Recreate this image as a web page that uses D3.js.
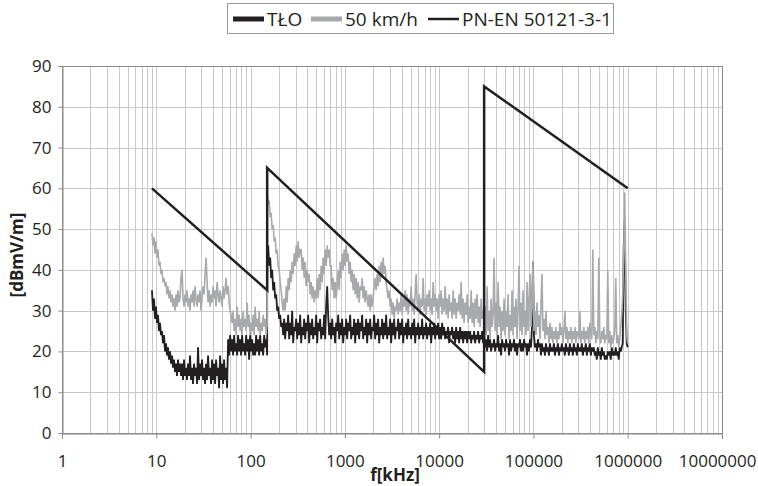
<!DOCTYPE html>
<html>
<head>
<meta charset="utf-8">
<script src="https://cdn.jsdelivr.net/npm/d3@7"></script>
<style>
body { margin: 0; background: #fff; }
text { font-family: "Open Sans", sans-serif; fill: #231f20; }
</style>
</head>
<body>
<div id="chart"></div>
<script>
// sweep band edges [kHz]
var bandEdges = [9, 150, 30000, 1000000];

// TŁO (background), one value per sweep point, band by band
var tloA = [35,30,33,28,31,27,29,25,27,24, 25,22,24,20,22,19,21,18,20,17,
  19,16,18,15,17,14,18,15,17,14, 17,13,18,14,16,13,17,14,19,13,
  16,12,17,14,16,12,21,13,17,14, 18,13,16,12,17,13,19,14,16,12,
  18,13,17,12,18,14,16,11,19,13, 17,12,18,13,16,11,
  23,19,24,20,23,19,24,20,22,19, 24,20,23,19,24,20,22,19,24,20,
  23,18,24,20,23,19,22,19,24,20, 23,19,24,20,22,19,24,21,23,19];
var tloB = [44,46,41,43,38,40,35,37,33,34, 30,31,28,29,26,27,24,28,23,27,
  25,29,23,27,24,30,22,26,25,28, 23,27,24,29,22,26,24,28,23,27,
  25,29,22,27,24,28,23,26,24,29, 22,27,25,28,23,26,24,29,23,31,
  36,29,24,27,23,28,24,26,22,27, 25,29,23,27,24,28,22,26,24,28,
  23,27,25,29,23,26,24,28,22,27, 24,28,23,27,25,29,23,26,24,28,
  22,27,24,28,23,26,25,29,23,27, 24,28,22,26,24,28,23,27,24,29,
  23,26,24,28,22,27,24,28,23,26, 25,28,23,27,24,28,22,26,24,27,
  23,28,24,26,23,27,24,28,22,26, 24,27,23,26,24,28,23,26,24,27,
  23,26,24,27,22,26,24,27,23,26, 24,27,23,26,23,27,24,26,23,25,
  24,26,22,25,24,26,23,25,22,26, 23,25,22,26,23,25,22,25,23,25,
  22,25,23,25,22,24,23,25,22,24, 23,25,22,24,23,25,22,24];
var tloC = [24,21,23,20,24,21,23,20,22,21, 23,20,22,21,24,20,22,19,23,21,
  22,20,23,21,22,19,23,20,22,21, 23,20,22,19,22,21,23,20,22,20,
  23,21,22,19,22,20,23,21,26,42, 24,21,22,20,23,21,22,19,22,20,
  21,19,22,20,21,19,22,20,21,20, 22,19,21,20,22,19,21,20,22,20,
  21,19,22,20,21,19,22,20,21,19, 22,20,21,19,22,20,21,20,22,19,
  21,20,22,19,21,20,22,19,21,20, 21,19,20,18,21,19,20,18,21,19,
  20,18,19,18,20,19,20,18,21,19, 20,19,21,19,20,18,21,20,21,22,
  46,52,30,22,21];

// 50 km/h
var kmhA = [49,46,48,44,47,43,45,41,42,39, 40,37,38,36,37,34,36,33,35,32,
  34,31,33,30,34,31,35,32,33,38, 40,33,31,34,32,35,31,33,30,34,
  32,35,31,36,33,31,34,32,35,30, 33,36,34,39,43,37,32,35,31,34,
  32,36,33,35,31,37,34,32,35,33, 31,36,33,35,38,34,36,32,30,29,
  27,30,25,28,24,31,26,29,25,28, 24,30,26,28,25,32,26,29,24,27,
  25,29,24,31,26,28,25,30,24,27, 25,29,26,28,24,27];
var kmhB = [59,56,57,53, 54,50,51,47,48,44,45,41,40,37,35,32,30,
  33,30,36,32,38,35,40,37,42,39,44,41,46,42,47,43,45,
  45,40,43,38,42,36,40,37,39,34,37,33,36,32,35,33,38,33,39,35,41,37,43,39,45,41,
  46,43,45,41, 41,35,38,33,37,33,36,40,35,42,38,44,40,45,41,46,
  42,44,39,42,37,40,35,39,34,38,33,37,32,36,
  35,38,33,36,32,35,33,31,34,30,34,31,33,36,
  38,35,39,36,41,37,42,38,43,39,41,
  37,35,33,35,31,33,29,32,28,31,
  30,33,29,32,30,34,29,33,31,35, 30,34,29,33,31,36,30,33,29,34,
  39,32,30,34,29,33,31,38,30,33, 29,34,31,35,30,33,29,37,31,34,
  30,33,28,34,31,35,29,33,30,36, 29,33,28,34,30,32,28,35,29,33,
  28,32,30,34,29,37,28,33,27,32, 29,34,27,31,28,35,27,32,26,33,
  28,34,27,31,26,33,28,30,27];
var kmhC = [26,31,24,36,25,30,23,33,26,29, 43,25,32,24,37,26,31,23,30,25,
  33,24,30,26,34,23,29,25,35,24, 31,26,33,23,30,41,25,32,24,35,
  26,30,24,37,25,33,39,26,31,42, 25,30,24,32,26,29,23,31,39,25,
  28,23,30,24,26,22,27,23,26,22, 25,23,26,22,25,23,27,24,26,22,
  25,30,23,26,22,25,23,26,22,25, 23,26,22,25,24,23,30,22,25,23,
  26,22,25,23,26,22,27,24,23,45, 24,26,22,25,23,43,24,22,25,23,
  26,22,24,23,40,22,25,21,24,22, 23,25,38,22,24,21,23,26,29,34,
  44,59,40,24,22];

// PN-EN 50121-3-1 limit
var limitFreq = [9, 150, 150, 30000, 30000, 1000000];
var limitVal = [60, 35, 65, 15, 85, 60];

var xTicks = [1, 10, 100, 1000, 10000, 100000, 1000000, 10000000];
var yTicks = [0, 10, 20, 30, 40, 50, 60, 70, 80, 90];

var black = "#231f20", grey = "#a7a9ac";

// sweep points are log spaced inside each band
function sweep(bands) {
	var pts = [];
	bands.forEach(function(vals, b) {
		var f0 = bandEdges[b], f1 = bandEdges[b + 1];
		vals.forEach(function(v, i) {
			pts.push([f0 * Math.pow(f1 / f0, i / (vals.length - 1)), v]);
		});
	});
	return pts;
}

var W = 758, H = 486;
var margin = {top: 66, right: 36, bottom: 53, left: 62};

var svg = d3.select("#chart").append("svg")
	.attr("width", W)
	.attr("height", H);

var x = d3.scaleLog().domain([1, 1e7]).range([margin.left, W - margin.right]);
var y = d3.scaleLinear().domain([0, 90]).range([H - margin.bottom, margin.top]);

// grid
var minor = [];
for (var d = 1; d < 1e7; d *= 10)
	for (var k = 1; k < 10; k++) minor.push(d * k);
minor.push(1e7);

svg.append("g").selectAll("line")
	.data(minor)
  .enter().append("line")
	.attr("x1", function(d) { return Math.round(x(d)) + 0.5; })
	.attr("x2", function(d) { return Math.round(x(d)) + 0.5; })
	.attr("y1", y(90))
	.attr("y2", y(0))
	.attr("stroke", "#c8c8c8");

svg.append("g").selectAll("line")
	.data(yTicks.slice(1))
  .enter().append("line")
	.attr("x1", x(1))
	.attr("x2", x(1e7))
	.attr("y1", function(d) { return Math.round(y(d)) + 0.5; })
	.attr("y2", function(d) { return Math.round(y(d)) + 0.5; })
	.attr("stroke", "#c8c8c8");

// frame
svg.append("rect")
	.attr("x", Math.round(x(1)) + 0.5)
	.attr("y", Math.round(y(90)) + 0.5)
	.attr("width", Math.round(x(1e7)) - Math.round(x(1)))
	.attr("height", Math.round(y(0)) - Math.round(y(90)))
	.attr("fill", "none")
	.attr("stroke", "#8a8a8a");

// axes
var xAxis = svg.append("g")
	.attr("transform", "translate(0," + (Math.round(y(0)) + 0.5) + ")")
	.call(d3.axisBottom(x).tickValues(xTicks).tickFormat(d3.format("d")).tickSize(5).tickPadding(16));
var yAxis = svg.append("g")
	.attr("transform", "translate(" + (Math.round(x(1)) + 0.5) + ",0)")
	.call(d3.axisLeft(y).tickValues(yTicks).tickSize(4).tickPadding(7));
[xAxis, yAxis].forEach(function(g) {
	g.select(".domain").attr("stroke", "#8a8a8a");
	g.selectAll(".tick line").attr("stroke", "#8a8a8a");
	g.selectAll("text").style("font-family", "'Open Sans', sans-serif")
		.style("font-size", "17px").attr("fill", black);
});
// last label kept inside the page, as the original does
xAxis.selectAll(".tick text").filter(function(d) { return d === 1e7; })
	.attr("text-anchor", "end").attr("x", W - 2 - x(1e7));

svg.append("text")
	.attr("x", 395).attr("y", 481)
	.attr("text-anchor", "middle")
	.style("font-size", "17px").style("font-weight", "bold")
	.text("f[kHz]");
svg.append("text")
	.attr("transform", "translate(23,255) rotate(-90)")
	.attr("text-anchor", "middle")
	.style("font-size", "17px").style("font-weight", "bold")
	.text("[dBmV/m]");

// series
var line = d3.line()
	.x(function(d) { return x(d[0]); })
	.y(function(d) { return y(d[1]); });

svg.append("path")
	.datum(sweep([tloA, tloB, tloC]))
	.attr("d", line)
	.attr("fill", "none")
	.attr("stroke", black)
	.attr("stroke-width", 1.8);

svg.append("path")
	.datum(sweep([kmhA, kmhB, kmhC]))
	.attr("d", line)
	.attr("fill", "none")
	.attr("stroke", grey)
	.attr("stroke-width", 1.6);

svg.append("path")
	.datum(limitFreq.map(function(f, i) { return [f, limitVal[i]]; }))
	.attr("d", line)
	.attr("fill", "none")
	.attr("stroke", black)
	.attr("stroke-width", 2.5);

// legend
var legend = svg.append("g");
legend.append("rect")
	.attr("x", 227.5).attr("y", 3.5)
	.attr("width", 386).attr("height", 30)
	.attr("fill", "#fff")
	.attr("stroke", "#999");
var items = [
	{name: "TŁO", color: black, w: 5, x: 233},
	{name: "50 km/h", color: grey, w: 5, x: 311},
	{name: "PN-EN 50121-3-1", color: black, w: 2.5, x: 428}
];
items.forEach(function(it) {
	legend.append("line")
		.attr("x1", it.x).attr("x2", it.x + 31)
		.attr("y1", 19).attr("y2", 19)
		.attr("stroke", it.color)
		.attr("stroke-width", it.w);
	legend.append("text")
		.attr("x", it.x + 34).attr("y", 25.5)
		.style("font-size", "19px")
		.text(it.name);
});
</script>
</body>
</html>
